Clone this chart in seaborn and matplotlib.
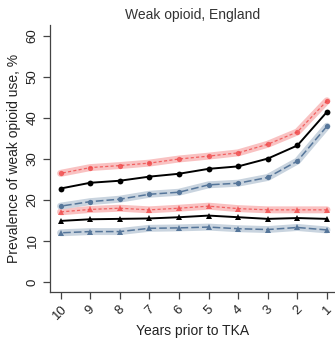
import matplotlib
matplotlib.use("Agg")
import matplotlib.pyplot as plt
import seaborn as sns
import pandas as pd

years = [10, 9, 8, 7, 6, 5, 4, 3, 2, 1]
tick_labels = ["10", "9", "8", "7", "6", "5", "4", "3", "2", "1"]

# prevalence of weak opioid use, % (circles: one group; triangles: another)
red_circle = [26.5, 27.9, 28.4, 29.0, 30.0, 30.7, 31.5, 33.6, 36.6, 44.2]
black_circle = [22.8, 24.2, 24.7, 25.7, 26.4, 27.6, 28.2, 30.1, 33.3, 41.5]
blue_circle = [18.5, 19.6, 20.2, 21.4, 21.9, 23.7, 24.1, 25.5, 29.5, 38.0]
red_triangle = [17.1, 17.7, 18.0, 17.6, 18.0, 18.5, 17.9, 17.6, 17.6, 17.6]
black_triangle = [14.9, 15.3, 15.4, 15.5, 15.8, 16.2, 15.8, 15.4, 15.6, 15.4]
blue_triangle = [12.0, 12.3, 12.3, 13.1, 13.2, 13.4, 13.0, 12.8, 13.3, 12.7]

sns.set_style("ticks")
plt.rcParams["font.family"] = ["Liberation Sans", "DejaVu Sans"]

fig = plt.figure(figsize=(3.35, 3.46), dpi=100)
ax = fig.add_axes([0.149, 0.156, 0.851, 0.772])

RED = "#f04848"
RED_BAND = "#f9c2c2"
BLUE = "#56769a"
BLUE_BAND = "#c9d4df"

series = [
    (red_circle, "o", "red"),
    (red_triangle, "^", "red"),
    (blue_circle, "o", "blue"),
    (blue_triangle, "^", "blue"),
    (black_circle, "o", "black"),
    (black_triangle, "^", "black"),
]

for vals, mk, kind in series:
    df = pd.DataFrame({"year": years, "value": vals})
    if kind == "red":
        sns.lineplot(data=df, x="year", y="value", ax=ax, color=RED_BAND,
                     lw=5.0, solid_capstyle="round", zorder=2)
        sns.lineplot(data=df, x="year", y="value", ax=ax, color=RED,
                     lw=0.9, alpha=0.8, dashes=(2.5, 1.8), marker=mk,
                     markersize=3.8, markeredgewidth=0, zorder=3)
    elif kind == "blue":
        sns.lineplot(data=df, x="year", y="value", ax=ax, color=BLUE_BAND,
                     lw=5.0, solid_capstyle="round", zorder=2)
        sns.lineplot(data=df, x="year", y="value", ax=ax, color=BLUE,
                     lw=1.1, dashes=(5, 2), marker=mk, markersize=3.8,
                     markeredgewidth=0, zorder=3)
    else:
        sns.lineplot(data=df, x="year", y="value", ax=ax, color="black",
                     lw=1.4, marker=mk, markersize=4.2,
                     markeredgewidth=0, zorder=4)

ax.set_xlim(10.36, 0.73)
ax.set_ylim(-2.44, 62.7)
ax.set_xticks(years)
ax.set_xticklabels(tick_labels, rotation=45, ha="center", va="top", fontsize=9.5,
                   color="#222222")
ax.set_yticks([0, 10, 20, 30, 40, 50, 60])
ax.set_yticklabels(["0", "10", "20", "30", "40", "50", "60"], rotation=90,
                   va="center", fontsize=9.5, color="#222222")
ax.tick_params(axis="both", length=5, width=0.9, color="#444444", pad=3)
for side in ("top", "right"):
    ax.spines[side].set_visible(False)
for side in ("left", "bottom"):
    ax.spines[side].set_color("#444444")
    ax.spines[side].set_linewidth(0.9)

ax.set_xlabel("Years prior to TKA", fontsize=10, color="#222222", labelpad=1)
ax.set_ylabel("Prevalence of weak opioid use, %", fontsize=10, color="#222222",
              labelpad=4)
ax.set_title("Weak opioid, England", fontsize=10, color="#333333", pad=4)

fig.savefig("out.png", dpi=100)
